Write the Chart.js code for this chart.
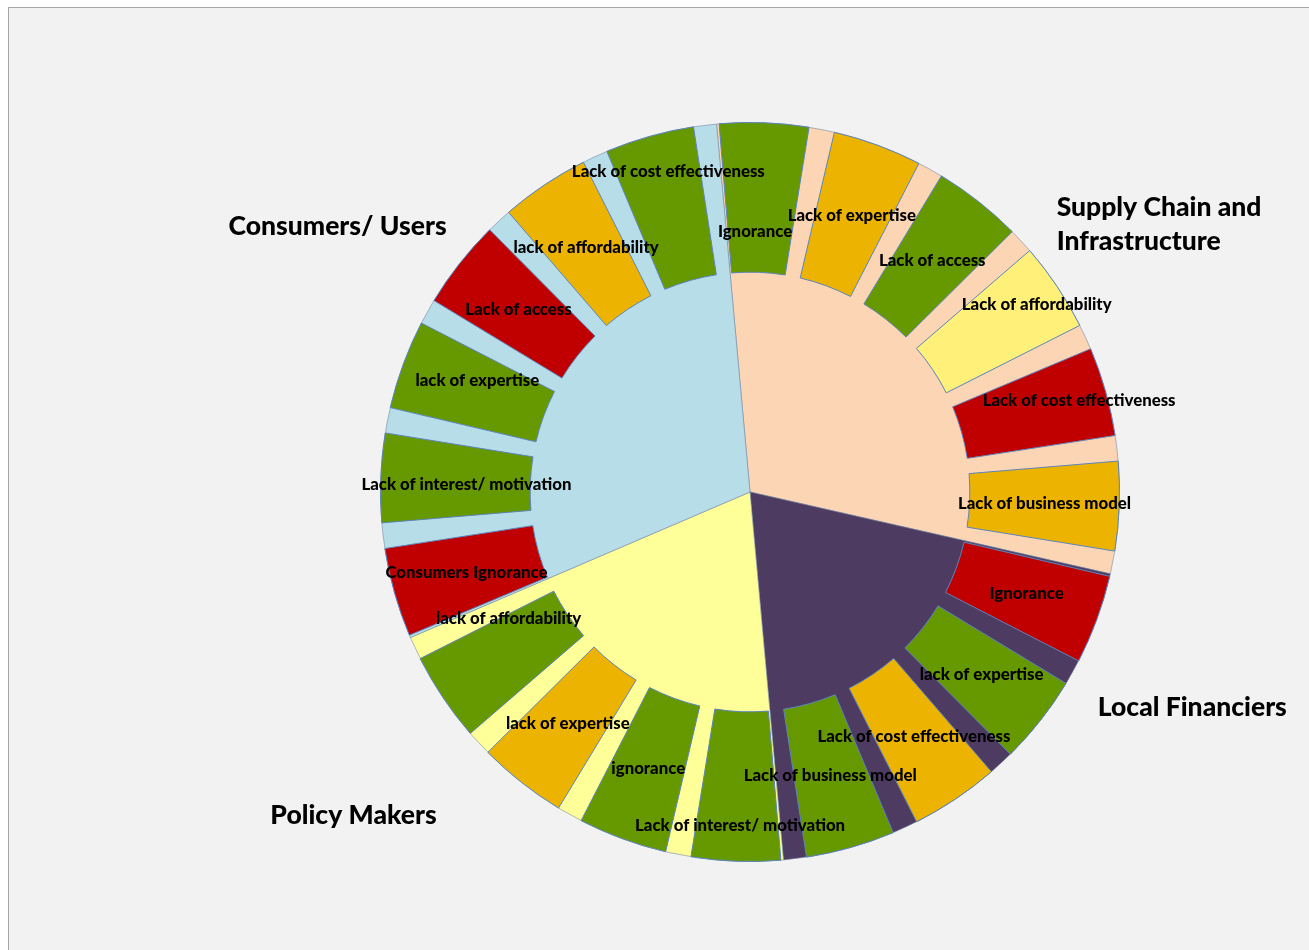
<!DOCTYPE html>
<html>
<head>
<meta charset="utf-8">
<title>Barriers by stakeholder group</title>
<script src="https://cdn.jsdelivr.net/npm/chart.js@4.4.0/dist/chart.umd.min.js"></script>
<style>
  html, body { margin: 0; padding: 0; background: #ffffff; overflow: hidden; }
  #frame { position: absolute; left: 8px; top: 7px; width: 1320px; height: 960px;
           background: #f2f2f2; border-left: 1px solid #a6a6a6; border-top: 1px solid #a6a6a6; }
  canvas { position: absolute; left: 0; top: 0; }
</style>
</head>
<body>
<div id="frame"></div>
<canvas id="groupChart" width="1309" height="950"></canvas>
<canvas id="barrierChart" width="1309" height="950"></canvas>
<script>
// Stakeholder groups (inner pie), clockwise from the top
var groups = ['Supply Chain and Infrastructure', 'Local Financiers', 'Policy Makers', 'Consumers/ Users'];
var groupShares = [30, 20, 20, 30];

// Barriers (outer ring), same clockwise order
var barriers = [
    'Ignorance', 'Lack of expertise', 'Lack of access', 'Lack of affordability', 'Lack of cost effectiveness', 'Lack of business model',
    'Ignorance', 'lack of expertise', 'Lack of cost effectiveness', 'Lack of business model',
    'Lack of interest/ motivation', 'ignorance', 'lack of expertise', 'lack of affordability',
    'Consumers Ignorance', 'Lack of interest/ motivation', 'lack of expertise', 'Lack of access', 'lack of affordability', 'Lack of cost effectiveness'
];
var barrierValues = [7, 7, 7, 7, 7, 7, 7, 7, 7, 7, 7, 7, 7, 7, 7, 7, 7, 7, 7, 7];
var gapValues = [2, 2, 2, 2, 2, 2, 2, 2, 2, 2, 2, 2, 2, 2, 2, 2, 2, 2, 2, 2];

// colours
var groupColors = ['#fcd5b5', '#4e3b62', '#ffff99', '#b7dde8'];
var GREEN = '#669900', GOLD = '#ecb400', RED = '#c00000', PALE = '#fff07a';
var barrierColors = [
    GREEN, GOLD, GREEN, PALE, RED, GOLD,
    RED, GREEN, GOLD, GREEN,
    GREEN, GREEN, GOLD, GREEN,
    RED, GREEN, GREEN, RED, GOLD, GREEN
];

// hand-moved data labels: [radial px, degrees]
var labelNudge = { 0: [-34, -1.1], 3: [48, 0.6], 4: [47, 0.2], 10: [39, -0.5], 13: [-22, 6.1], 15: [-11, -0.8], 16: [0, 2.1], 19: [36, 1.5] };

// group title spots, as fractions of the outer radius from the centre
var titleSpots = [
    { fx: 0.830, fy: -0.770, align: 'left' },
    { fx: 1.197, fy: 0.584, align: 'center' },
    { fx: -1.073, fy: 0.876, align: 'center' },
    { fx: -1.116, fy: -0.719, align: 'center' }
];

var area = { left: 380, right: 189, top: 122, bottom: 88 };

// outer ring: each barrier followed by an empty gap
var ringValues = [], ringLabels = [], ringColors = [], ringBorders = [], ringBorderWidths = [];
for (var i = 0; i < barriers.length; i++) {
    ringValues.push(barrierValues[i], gapValues[i]);
    ringLabels.push(barriers[i], '');
    ringColors.push(barrierColors[i], 'rgba(0,0,0,0)');
    ringBorders.push('#5b84bd', 'rgba(0,0,0,0)');
    ringBorderWidths.push(1, 0);
}

function wrapText(ctx, text, maxWidth) {
    var words = text.split(' '), lines = [], line = '';
    words.forEach(function(w) {
        var test = line ? line + ' ' + w : w;
        if (line && ctx.measureText(test).width > maxWidth) {
            lines.push(line);
            line = w;
        } else {
            line = test;
        }
    });
    lines.push(line);
    return lines;
}

var groupTitles = {
    id: 'groupTitles',
    afterDraw: function(chart) {
        var ctx = chart.ctx;
        var arc = chart.getDatasetMeta(0).data[0];
        var R = arc.outerRadius;
        ctx.save();
        ctx.font = '900 26.5px Lato';
        ctx.fillStyle = '#000000';
        ctx.textBaseline = 'middle';
        groups.forEach(function(name, i) {
            var s = titleSpots[i];
            var lines = wrapText(ctx, name, 240);
            ctx.textAlign = s.align;
            lines.forEach(function(line, j) {
                ctx.fillText(line, arc.x + s.fx * R, arc.y + s.fy * R + j * 34);
            });
        });
        ctx.restore();
    }
};

var barrierText = {
    id: 'barrierText',
    afterDatasetsDraw: function(chart) {
        var ctx = chart.ctx;
        var arcs = chart.getDatasetMeta(0).data;
        ctx.save();
        ctx.font = '900 16.8px Lato';
        ctx.fillStyle = '#000000';
        ctx.textAlign = 'center';
        ctx.textBaseline = 'middle';
        for (var i = 0; i < arcs.length; i += 2) {
            var k = i / 2;
            var nudge = labelNudge[k] || [0, 0];
            var p = arcs[i].getProps(['x', 'y', 'startAngle', 'endAngle', 'innerRadius', 'outerRadius']);
            var a = (p.startAngle + p.endAngle) / 2 + nudge[1] * Math.PI / 180;
            var r = (p.innerRadius + p.outerRadius) / 2 + nudge[0];
            ctx.fillText(barriers[k], p.x + r * Math.cos(a), p.y + r * Math.sin(a));
        }
        ctx.restore();
    }
};

var common = {
    responsive: false,
    animation: false,
    layout: { padding: area },
    plugins: { legend: { display: false }, tooltip: { enabled: false } },
    events: []
};

new Chart(document.getElementById('groupChart').getContext('2d'), {
    type: 'pie',
    data: {
        labels: groups,
        datasets: [{
            data: groupShares,
            backgroundColor: groupColors,
            borderColor: 'rgba(110,130,160,0.55)',
            borderWidth: 1
        }]
    },
    options: Object.assign({}, common, { rotation: -5.2 }),
    plugins: [groupTitles]
});

new Chart(document.getElementById('barrierChart').getContext('2d'), {
    type: 'doughnut',
    data: {
        labels: ringLabels,
        datasets: [{
            data: ringValues,
            backgroundColor: ringColors,
            borderColor: ringBorders,
            borderWidth: ringBorderWidths
        }]
    },
    options: Object.assign({}, common, { rotation: -4.8, cutout: '59.5%' }),
    plugins: [barrierText]
});
</script>
</body>
</html>
